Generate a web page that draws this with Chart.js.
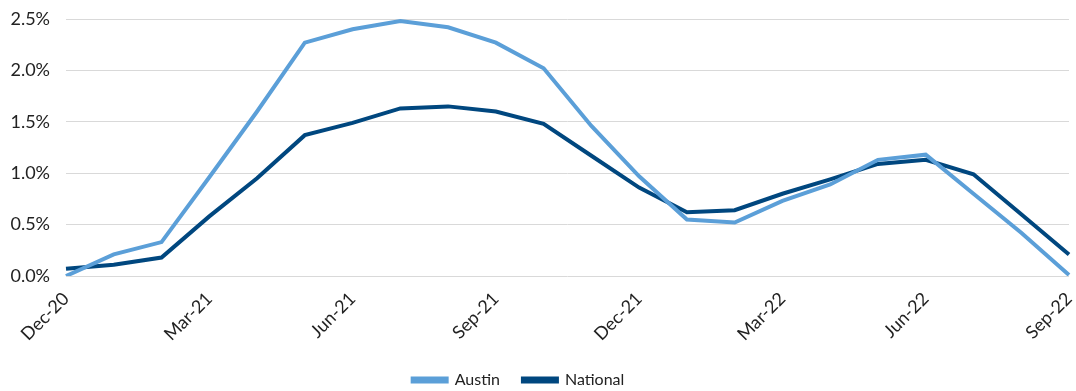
<!DOCTYPE html>
<html>
<head>
<meta charset="utf-8">
<script src="https://cdn.jsdelivr.net/npm/chart.js@4.4.1/dist/chart.umd.min.js"></script>
<style>
  html, body { margin: 0; padding: 0; background: #ffffff; }
  #wrap { width: 1076px; height: 391px; position: relative; }
</style>
</head>
<body>
<div id="wrap"><canvas id="chart" width="1076" height="391"></canvas></div>
<script>
// Monthly series, Dec-20 through Sep-22 (percent)
const months = ['Dec-20','Jan-21','Feb-21','Mar-21','Apr-21','May-21','Jun-21','Jul-21','Aug-21','Sep-21','Oct-21','Nov-21',
                'Dec-21','Jan-22','Feb-22','Mar-22','Apr-22','May-22','Jun-22','Jul-22','Aug-22','Sep-22'];
const austin   = [0.00, 0.21, 0.33, 0.96, 1.60, 2.27, 2.40, 2.48, 2.42, 2.27, 2.02, 1.46,
                  0.97, 0.55, 0.52, 0.73, 0.89, 1.13, 1.18, 0.80, 0.42, 0.01];
const national = [0.07, 0.11, 0.18, 0.58, 0.95, 1.37, 1.49, 1.63, 1.65, 1.60, 1.48, 1.17,
                  0.86, 0.62, 0.64, 0.80, 0.94, 1.09, 1.13, 0.99, 0.60, 0.21];
const yTicks = [0, 0.5, 1.0, 1.5, 2.0, 2.5];

const FONT = 'Lato, "Noto Sans", sans-serif';
const TEXT = '#222222';

// nudge the legend row slightly left of the canvas centre
const legendShift = {
  id: 'legendShift',
  afterLayout(chart) {
    const lg = chart.legend;
    if (lg) { lg.left -= 16; lg.right -= 16; }
  }
};

new Chart(document.getElementById('chart'), {
  type: 'line',
  data: {
    labels: months,
    datasets: [
      { label: 'Austin', data: austin, borderColor: '#5b9fd8', backgroundColor: '#5b9fd8',
        borderWidth: 4, pointRadius: 0, tension: 0 },
      { label: 'National', data: national, borderColor: '#00477f', backgroundColor: '#00477f',
        borderWidth: 4, pointRadius: 0, tension: 0 }
    ]
  },
  plugins: [legendShift],
  options: {
    responsive: false,
    animation: false,
    layout: { padding: { top: 19, right: 7, left: 0, bottom: -7 } },
    plugins: {
      legend: {
        position: 'bottom',
        labels: {
          boxWidth: 34, boxHeight: 3, padding: 23,
          color: TEXT, font: { family: FONT, size: 16 }
        }
      },
      tooltip: { enabled: false }
    },
    scales: {
      x: {
        offset: false,
        grid: { display: false, drawTicks: false },
        border: { display: false },
        ticks: {
          autoSkip: false, maxRotation: 45, minRotation: 45, padding: 12,
          color: TEXT, font: { family: FONT, size: 18 },
          callback: function (v, i) { return i % 3 === 0 ? months[i] : ''; }
        },
        afterFit: function (s) { s.height = 73; s.paddingLeft = 0; s.paddingRight = 0; }
      },
      y: {
        min: 0, max: 2.5,
        afterBuildTicks: function (s) { s.ticks = yTicks.map(v => ({ value: v })); },
        grid: { color: '#d9d9d9', lineWidth: 1, drawTicks: false },
        border: { display: false },
        ticks: {
          padding: 16, color: TEXT, font: { family: FONT, size: 18 },
          callback: function (v) { return v.toFixed(1) + '%'; }
        },
        afterFit: function (s) { s.width = 66; s.paddingTop = 0; s.paddingBottom = 0; }
      }
    }
  }
});
</script>
</body>
</html>
